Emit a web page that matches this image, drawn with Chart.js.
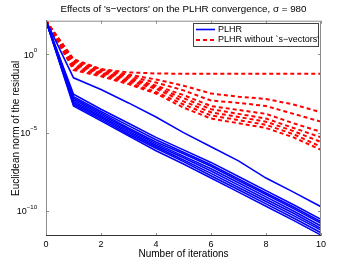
<!DOCTYPE html>
<html>
<head>
<meta charset="utf-8">
<script src="https://cdn.jsdelivr.net/npm/chart.js@4"></script>
<style>
  html, body { margin: 0; padding: 0; background: #fff; }
  #wrap { width: 354px; height: 266px; }
</style>
</head>
<body>
<div id="wrap"><canvas id="lineChart"></canvas></div>
<script>
// iterations 0..10, values are log10 of the residual norm
var iterations = [0, 1, 2, 3, 4, 5, 6, 7, 8, 9, 10];

var plhr = [
    [2.15, -1.5, -2.25, -3.1, -4.0, -5.0, -5.9, -6.8, -7.9, -8.8, -9.73],
    [2.15, -2.55, -3.5, -4.4, -5.3, -6.1, -6.9, -7.8, -8.7, -9.6, -10.54],
    [2.15, -2.7, -3.65, -4.55, -5.45, -6.25, -7.05, -7.95, -8.85, -9.75, -10.69],
    [2.15, -2.8, -3.75, -4.7, -5.6, -6.35, -7.15, -8.05, -8.95, -9.85, -10.79],
    [2.15, -2.9, -3.85, -4.8, -5.7, -6.5, -7.3, -8.2, -9.1, -10.0, -10.96],
    [2.15, -3.0, -3.95, -4.9, -5.8, -6.6, -7.45, -8.35, -9.25, -10.15, -11.11],
    [2.15, -3.1, -4.05, -5.0, -5.9, -6.75, -7.6, -8.5, -9.4, -10.3, -11.22],
    [2.15, -3.2, -4.15, -5.1, -6.0, -6.85, -7.75, -8.65, -9.55, -10.45, -11.39],
    [2.15, -3.3, -4.25, -5.2, -6.15, -7.0, -7.9, -8.8, -9.7, -10.6, -11.54]
];

var plhrNoS = [
    [2.15, -0.3, -0.95, -1.15, -1.22, -1.24, -1.24, -1.24, -1.24, -1.24, -1.24],
    [2.15, -0.4, -0.95, -1.3, -1.6, -2.0, -2.5, -2.7, -2.85, -3.2, -3.7],
    [2.15, -0.5, -1.0, -1.4, -1.8, -2.3, -2.95, -3.1, -3.3, -3.8, -4.3],
    [2.15, -0.6, -1.1, -1.5, -2.0, -2.6, -3.3, -3.55, -3.8, -4.4, -4.95],
    [2.15, -0.7, -1.15, -1.6, -2.1, -2.8, -3.5, -3.8, -4.1, -4.7, -5.3],
    [2.15, -0.8, -1.2, -1.7, -2.2, -3.0, -3.7, -4.0, -4.3, -4.9, -5.6],
    [2.15, -0.9, -1.3, -1.8, -2.4, -3.2, -3.9, -4.2, -4.5, -5.1, -5.9],
    [2.15, -1.0, -1.4, -1.9, -2.5, -3.4, -4.1, -4.4, -4.7, -5.3, -6.1]
];

var yTicks = [-10, -5, 0];
var yTickExps = ['\u221210', '\u22125', '0'];
var xTicks = [0, 2, 4, 6, 8, 10];

var legendLabels = ['PLHR', 'PLHR without `s\u2212vectors\''];
var titleText = 'Effects of \'s\u2212vectors\' on the PLHR convergence, \u03C3 = 980';
var FONT = '"Liberation Sans", Arial, sans-serif';

function toPoints(vals) {
    return vals.map(function (v, i) { return { x: iterations[i], y: v }; });
}

var datasets = [];
plhr.forEach(function (s) {
    datasets.push({ data: toPoints(s), borderColor: '#0000ff', borderWidth: 1.6, pointRadius: 0, fill: false, tension: 0 });
});
plhrNoS.forEach(function (s) {
    datasets.push({ data: toPoints(s), borderColor: '#ff0000', borderWidth: 2, borderDash: [4, 3], pointRadius: 0, fill: false, tension: 0 });
});

// matlab style box, inward ticks, 10^n labels, title and legend
var boxPlugin = {
    id: 'box',
    afterDraw: function (chart) {
        var ctx = chart.ctx, a = chart.chartArea;
        var xs = chart.scales.x, ys = chart.scales.y;
        ctx.save();
        ctx.lineWidth = 1;
        ctx.strokeStyle = '#8c8c8c';
        ctx.beginPath();
        ctx.moveTo(a.left + 0.5, a.bottom);
        ctx.lineTo(a.left + 0.5, a.top + 0.5);
        ctx.lineTo(a.right - 0.5, a.top + 0.5);
        ctx.lineTo(a.right - 0.5, a.bottom);
        xTicks.forEach(function (t) {
            var px = Math.round(xs.getPixelForValue(t)) + 0.5;
            ctx.moveTo(px, a.bottom); ctx.lineTo(px, a.bottom - 3);
            ctx.moveTo(px, a.top); ctx.lineTo(px, a.top + 3);
        });
        yTicks.forEach(function (t) {
            var py = Math.round(ys.getPixelForValue(t)) + 0.5;
            ctx.moveTo(a.left, py); ctx.lineTo(a.left + 3, py);
            ctx.moveTo(a.right, py); ctx.lineTo(a.right - 3, py);
        });
        ctx.stroke();
        ctx.strokeStyle = '#333';
        ctx.beginPath();
        ctx.moveTo(a.left, a.bottom - 0.5);
        ctx.lineTo(a.right, a.bottom - 0.5);
        ctx.stroke();

        // y tick labels with superscript exponents
        ctx.fillStyle = '#000';
        ctx.textBaseline = 'middle';
        yTicks.forEach(function (t, i) {
            var py = ys.getPixelForValue(t);
            ctx.font = '6px ' + FONT;
            var ew = ctx.measureText(yTickExps[i]).width;
            ctx.textAlign = 'right';
            ctx.fillText(yTickExps[i], a.left - 9, py - 4);
            ctx.font = '9px ' + FONT;
            ctx.fillText('10', a.left - 9 - ew, py + 1);
        });

        // title centred over the plot area
        ctx.font = '9.8px ' + FONT;
        ctx.textAlign = 'center';
        ctx.fillText(titleText, (a.left + a.right) / 2, 9);

        // legend
        var lx = 193, ly = 23, lw = 125, lh = 23;
        ctx.fillStyle = '#fff';
        ctx.fillRect(lx, ly, lw, lh);
        ctx.strokeStyle = '#444';
        ctx.strokeRect(lx + 0.5, ly + 0.5, lw, lh);
        ctx.font = '9px ' + FONT;
        ctx.textAlign = 'left';
        var rows = [
            { y: ly + 6.5, color: '#0000ff', dash: [], w: 1.6 },
            { y: ly + 17, color: '#ff0000', dash: [4, 3], w: 2 }
        ];
        rows.forEach(function (r, i) {
            ctx.strokeStyle = r.color;
            ctx.lineWidth = r.w;
            ctx.setLineDash(r.dash);
            ctx.beginPath();
            ctx.moveTo(lx + 3, r.y);
            ctx.lineTo(lx + 22, r.y);
            ctx.stroke();
            ctx.setLineDash([]);
            ctx.fillStyle = '#000';
            ctx.fillText(legendLabels[i], lx + 25, r.y);
        });
        ctx.restore();
    }
};

var ctx = document.getElementById('lineChart').getContext('2d');
var myChart = new Chart(ctx, {
    type: 'line',
    data: { datasets: datasets },
    options: {
        responsive: true,
        maintainAspectRatio: false,
        animation: false,
        layout: { padding: { top: 20.7, right: 33, bottom: 0, left: 0 } },
        plugins: {
            legend: { display: false },
            tooltip: { enabled: false },
            title: { display: false }
        },
        scales: {
            x: {
                type: 'linear',
                min: 0,
                max: 10,
                grid: { display: false, drawTicks: false },
                border: { display: false },
                afterFit: function (scale) { scale.height = 30; },
                afterBuildTicks: function (scale) {
                    scale.ticks = xTicks.map(function (v) { return { value: v }; });
                },
                ticks: {
                    color: '#000',
                    padding: 3,
                    maxRotation: 0,
                    font: { family: FONT, size: 9 }
                },
                title: {
                    display: true,
                    text: 'Number of iterations',
                    color: '#000',
                    font: { family: FONT, size: 10, lineHeight: 1.2 },
                    padding: { top: 0, bottom: 6 }
                }
            },
            y: {
                type: 'linear',
                min: -11.6,
                max: 2.15,
                grid: { display: false, drawTicks: false },
                border: { display: false },
                afterFit: function (scale) { scale.width = 46; },
                afterBuildTicks: function (scale) {
                    scale.ticks = yTicks.map(function (v) { return { value: v }; });
                },
                ticks: {
                    display: false
                },
                title: {
                    display: true,
                    text: 'Euclidean norm of the residual',
                    color: '#000',
                    font: { family: FONT, size: 10, lineHeight: 1.2 },
                    padding: { top: 10, bottom: 0 }
                }
            }
        }
    },
    plugins: [boxPlugin]
});
</script>
</body>
</html>
